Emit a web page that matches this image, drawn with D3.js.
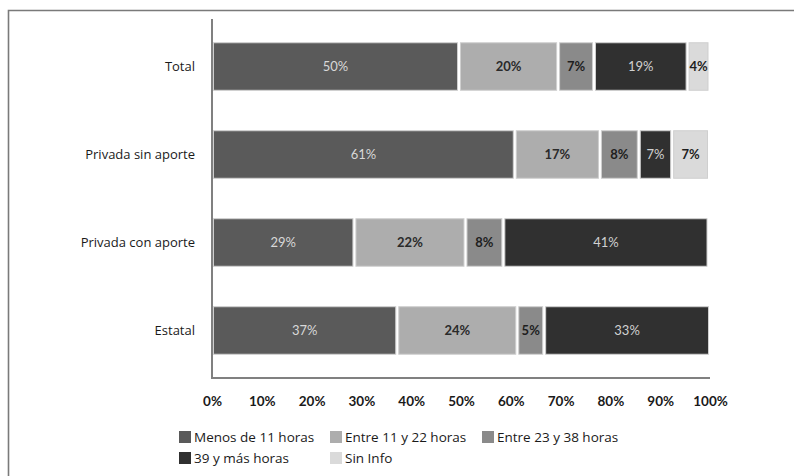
<!DOCTYPE html>
<html><head><meta charset="utf-8">
<script src="https://cdn.jsdelivr.net/npm/d3@7"></script>
<style>body{margin:0;background:#fff}svg{display:block}</style>
</head><body>
<svg id="c" width="794" height="476"></svg>
<script>
const categories = ["Total", "Privada sin aporte", "Privada con aporte", "Estatal"];
const seriesNames = ["Menos de 11 horas", "Entre 11 y 22 horas", "Entre 23 y 38 horas", "39 y más horas", "Sin Info"];
const menos11 = [49.6, 60.8, 28.6, 37.2];
const entre11y22 = [19.9, 17.1, 22.3, 24.1];
const entre23y38 = [7.2, 7.8, 7.6, 5.4];
const mas39 = [18.8, 6.7, 41.2, 33.3];
const sinInfo = [4.4, 7.4, 0, 0];
const tickLabels = ["0%","10%","20%","30%","40%","50%","60%","70%","80%","90%","100%"];

const colors = ["#5a5a5a", "#adadad", "#8a8a8a", "#303030", "#dadada"];
const textColors = ["#d8d8d8", "#2a2a2a", "#1e1e1e", "#d0d0d0", "#1e1e1e"];
const seriesVals = [menos11, entre11y22, entre23y38, mas39, sinInfo];

const svg = d3.select("#c");
const font = "Lato, 'Open Sans', sans-serif";
const font2 = "'Open Sans', sans-serif";

// frame
svg.append("path").attr("d", "M8.5,480 L8.5,10.5 L800,10.5")
  .attr("fill","none").attr("stroke","#7a7a7a").attr("stroke-width",1.6);

const x = d3.scaleLinear().domain([0,100]).range([212, 710]);
const y = d3.scaleBand().domain(categories).range([19, 378]).paddingInner(0.46).paddingOuter(0.27);

const rows = categories.map((c,i) => {
  let acc = 0;
  return seriesVals.map((s,k) => { const d = {cat:c, k, v:s[i], x0:acc}; acc += s[i]; return d; });
});

const g = svg.append("g");
rows.forEach(r => {
  r.filter(d => d.v > 0).forEach(d => {
    const x0 = x(d.x0), x1 = x(d.x0 + d.v);
    g.append("rect")
      .attr("x", x0 + 1.5).attr("y", y(d.cat))
      .attr("width", Math.max(0, x1 - x0 - 3)).attr("height", y.bandwidth())
      .attr("fill", colors[d.k]).attr("stroke", "#cfcfcf").attr("stroke-width", 1);
    g.append("text")
      .attr("x", (x0 + x1)/2).attr("y", y(d.cat) + y.bandwidth()/2)
      .attr("dy","0.35em").attr("text-anchor","middle")
      .attr("font-family", font).attr("font-size", 13)
      .attr("font-weight", (d.k===0||d.k===3) ? 400 : 700)
      .attr("fill", textColors[d.k])
      .text(Math.round(d.v) + "%");
  });
});

// axes lines
svg.append("line").attr("x1",212).attr("x2",212).attr("y1",19).attr("y2",379)
  .attr("stroke","#808080").attr("stroke-width",2);
svg.append("line").attr("x1",211).attr("x2",710).attr("y1",378).attr("y2",378)
  .attr("stroke","#808080").attr("stroke-width",2);

// category labels
const yAxis = d3.axisLeft(y).tickSize(0).tickPadding(17);
const ya = svg.append("g").attr("transform","translate(212,0)").call(yAxis);
ya.select(".domain").remove();
ya.selectAll("text").attr("font-family", font2).attr("font-size", 13).attr("fill","#1a1a1a");

// x tick labels
const xAxis = d3.axisBottom(x).tickValues(d3.range(0,101,10)).tickSize(0).tickPadding(18)
  .tickFormat((d,i) => tickLabels[i]);
const xa = svg.append("g").attr("transform","translate(0,378)").call(xAxis);
xa.select(".domain").remove();
xa.selectAll("text").attr("font-family", font).attr("font-size", 13.5).attr("font-weight",700).attr("fill","#1a1a1a");

// legend
const legendPos = [[179,437],[330,437],[482,437],[179,458],[330,458]];
seriesNames.forEach((n,k) => {
  const [lx,ly] = legendPos[k];
  svg.append("rect").attr("x",lx).attr("y",ly-6).attr("width",12).attr("height",12).attr("fill",colors[k]);
  svg.append("text").attr("x",lx+15).attr("y",ly).attr("dy","0.35em")
    .attr("font-family", font2).attr("font-size", 13.5).attr("fill","#1a1a1a").text(n);
});
</script>
</body></html>
